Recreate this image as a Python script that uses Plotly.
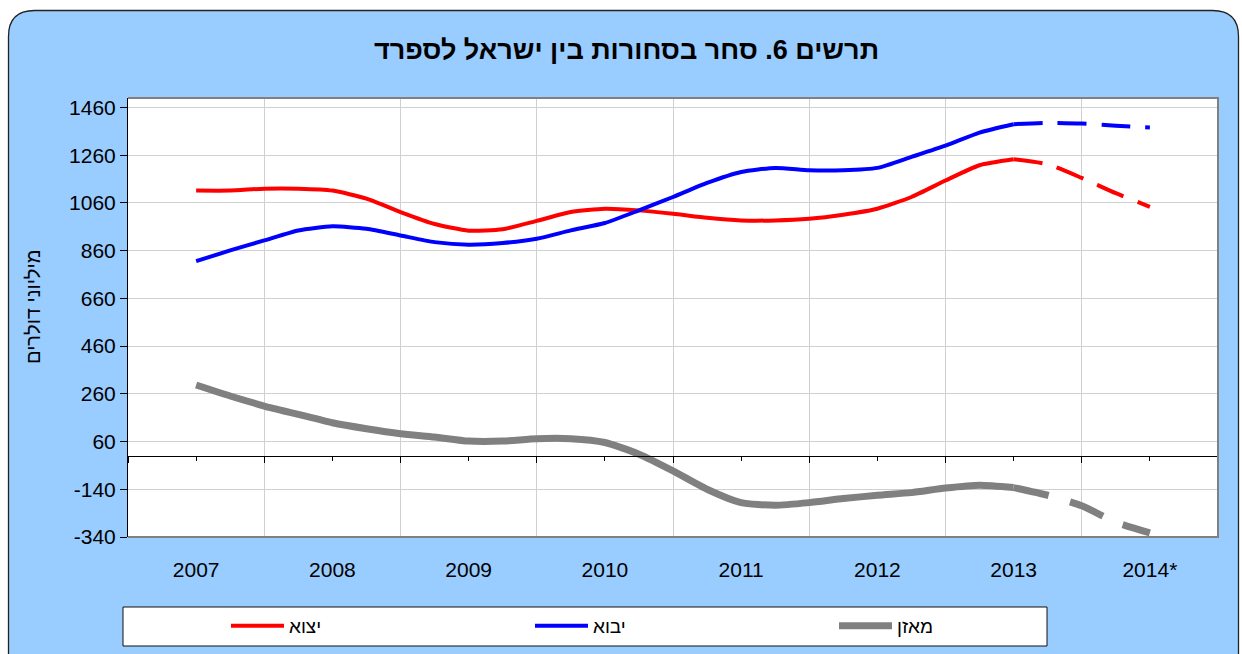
import plotly.graph_objects as go

# ---- data (quarterly points 2007 .. 2014*) ----
years = ["2007", "2008", "2009", "2010", "2011", "2012", "2013", "2014*"]
periods = [
    "2007Q1", "2007Q2", "2007Q3", "2007Q4",
    "2008Q1", "2008Q2", "2008Q3", "2008Q4",
    "2009Q1", "2009Q2", "2009Q3", "2009Q4",
    "2010Q1", "2010Q2", "2010Q3", "2010Q4",
    "2011Q1", "2011Q2", "2011Q3", "2011Q4",
    "2012Q1", "2012Q2", "2012Q3", "2012Q4",
    "2013Q1", "2013Q2", "2013Q3", "2013Q4",
    "2014Q1",
]
exports = [1112, 1112, 1120, 1120, 1112, 1078, 1022, 972,
           944, 950, 985, 1022, 1036, 1029, 1015, 998,
           987, 987, 994, 1011, 1036, 1085, 1154, 1218,
           1243, 1222, 1165, 1101, 1044]
imports = [816, 861, 903, 945, 962, 952, 924, 896,
           885, 892, 910, 945, 976, 1029, 1085, 1144,
           1190, 1207, 1197, 1197, 1207, 1253, 1300, 1355,
           1390, 1396, 1393, 1384, 1376]
balance = [297, 251, 209, 174, 139, 114, 93, 79,
           62, 62, 72, 72, 56, 7, -63, -140,
           -196, -207, -196, -179, -165, -154, -135, -123,
           -133, -165, -209, -278, -323]
series_names = ["יצוא", "יבוא", "מאזן"]
series_colors = ["#FF0000", "#0000FF", "#808080"]
series_widths = [4, 4, 7]
series_dash = ["29px,15px", "29px,15px", "36px,22px"]
forecast_start = 24  # dashed from 2013 onwards

y_tickvals = [-340, -140, 60, 260, 460, 660, 860, 1060, 1260, 1460]
y_range = [-340, 1500]

# x positions on the category axis (category index, quarterly subdivisions)
xpos = [i / 4 for i in range(len(periods))]

W, H = 1242, 654
PL, PR, PT, PB = 128, 1218, 98, 537  # plot area in pixels
FONT = "Liberation Sans, Arial, sans-serif"


def px(x):
    return (x - PL) / (PR - PL)


def py(y):
    return (PB - y) / (PB - PT)


fig = go.Figure()
for name, vals, col, w, dsh in zip(series_names, [exports, imports, balance],
                                   series_colors, series_widths, series_dash):
    fig.add_trace(go.Scatter(
        x=xpos[:forecast_start + 1], y=vals[:forecast_start + 1], name=name,
        mode="lines", line=dict(color=col, width=w, shape="spline", smoothing=0.6),
        legendgroup=name, showlegend=True))
    fig.add_trace(go.Scatter(
        x=xpos[forecast_start:], y=vals[forecast_start:], name=name,
        mode="lines", line=dict(color=col, width=w, dash=dsh, shape="spline", smoothing=0.6),
        legendgroup=name, showlegend=False))

# dummy trace for the zero-line axis
fig.add_trace(go.Scatter(x=[None], y=[None], xaxis="x2", showlegend=False, hoverinfo="skip"))

# background shapes
L, R, T, B, r = 8.5, 1238.5, 10.5, 720, 26
path = (f"M{px(L)},{py(B)} L{px(L)},{py(T + r)} Q{px(L)},{py(T)} {px(L + r)},{py(T)} "
        f"L{px(R - r)},{py(T)} Q{px(R)},{py(T)} {px(R)},{py(T + r)} L{px(R)},{py(B)} Z")
shapes = [
    dict(type="path", xref="paper", yref="paper", path=path, fillcolor="#99CCFF",
         line=dict(color="#222222", width=1.3), layer="below"),
    dict(type="rect", xref="paper", yref="paper", x0=0, x1=1, y0=0, y1=1,
         fillcolor="white", line=dict(width=0), layer="below"),
    dict(type="path", xref="paper", yref="paper", path="M0,0 L1,0 L1,1 L0,1",
         line=dict(color="#808080", width=2), layer="above"),
    # legend frame
    dict(type="rect", xref="paper", yref="paper", x0=px(123), x1=px(1047), y0=py(646), y1=py(607),
         fillcolor="white", line=dict(color="#111111", width=1), layer="above"),
]

fig.update_layout(
    width=W, height=H,
    margin=dict(l=PL, r=W - PR, t=PT, b=H - PB, pad=0, autoexpand=False),
    paper_bgcolor="white", plot_bgcolor="rgba(0,0,0,0)",
    font=dict(family=FONT, color="black", size=21),
    shapes=shapes,
    showlegend=True,
    legend=dict(orientation="h", xref="container", yref="container",
                x=226 / W, y=(H - 607) / H, xanchor="left", yanchor="top",
                bgcolor="rgba(0,0,0,0)", borderwidth=0, entrywidth=236, entrywidthmode="pixels",
                itemwidth=53, font=dict(size=19, family=FONT), traceorder="normal"),
    xaxis=dict(range=[-0.5, 7.5], tickmode="array", tickvals=list(range(len(years))), ticktext=years,
               showgrid=False, zeroline=False, showline=False,
               ticks="outside", ticklen=14, tickcolor="rgba(0,0,0,0)",
               minor=dict(tickmode="array", tickvals=[i + 0.5 for i in range(7)], showgrid=True,
                          gridcolor="#D0D0D0", gridwidth=1, ticks=""),
               tickfont=dict(size=21), fixedrange=True),
    xaxis2=dict(range=[-0.5, 7.5], overlaying="x", anchor="free",
                position=py(455.9), side="bottom", showgrid=False, zeroline=False,
                showline=True, linecolor="black", linewidth=1,
                tickmode="linear", tick0=0.5, dtick=1, ticks="outside", ticklen=6, tickcolor="black",
                minor=dict(ticks="outside", ticklen=4, tick0=0, dtick=1, tickcolor="black"),
                showticklabels=False, fixedrange=True),
    yaxis=dict(range=y_range, tickmode="array", tickvals=y_tickvals,
               ticktext=[str(v) for v in y_tickvals],
               showgrid=True, gridcolor="#D0D0D0", gridwidth=1, zeroline=False,
               showline=True, linecolor="black", linewidth=1,
               ticks="outside", ticklen=7, tickcolor="black", tickfont=dict(size=21),
               fixedrange=True),
    annotations=[
        dict(text="<b>תרשים 6. סחר בסחורות בין ישראל לספרד</b>", xref="paper", yref="paper",
             x=px(626), y=py(50), xanchor="center", yanchor="middle", showarrow=False,
             font=dict(size=27, family=FONT, color="black")),
        dict(text="מיליוני דולרים", xref="paper", yref="paper", x=px(33), y=py(307),
             xanchor="center", yanchor="middle", textangle=-90, showarrow=False,
             font=dict(size=20, family=FONT, color="black")),
    ],
)

fig.write_html("out.html", config={"displayModeBar": False},
               post_script="document.body.style.margin='0';")
